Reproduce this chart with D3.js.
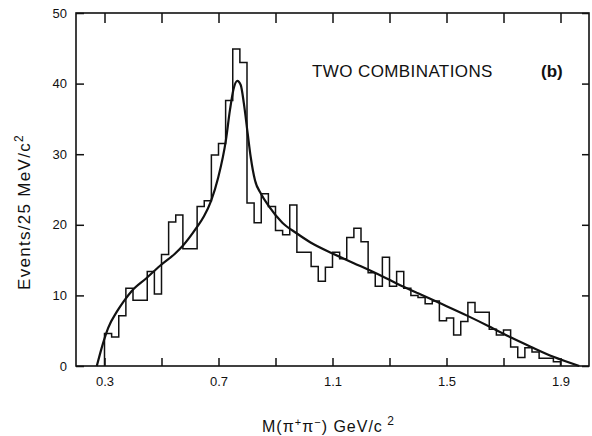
<!DOCTYPE html>
<html>
<head>
<meta charset="utf-8">
<script src="https://cdn.jsdelivr.net/npm/d3@7"></script>
<style>
  html, body { margin: 0; padding: 0; background: #fff; }
  svg { display: block; }
  text { font-family: "Liberation Sans", Arial, sans-serif; fill: #111; }
</style>
</head>
<body>
<svg id="chart" width="592" height="436"></svg>
<script>
// ---- data ----
const binStart = 0.30;      // GeV, first bin left edge
const binWidth = 0.025;     // 25 MeV bins
const counts = [
  4.6, 4.1, 7.1, 11.0, 9.3, 9.3, 13.4, 10.2, 15.8, 20.4,
  21.4, 16.6, 16.6, 22.6, 23.4, 29.9, 31.5, 37.6, 44.9, 43.0,
  23.1, 20.3, 24.4, 22.6, 19.2, 18.6, 22.8, 16.1, 16.1, 14.1,
  12.0, 14.0, 16.1, 15.2, 18.2, 19.5, 17.6, 13.2, 11.3, 15.4,
  11.3, 13.4, 11.0, 10.0, 9.7, 8.8, 9.2, 6.4, 6.8, 4.4,
  6.3, 9.0, 7.6, 7.6, 5.2, 4.4, 5.1, 2.7, 1.2, 2.6,
  2.0, 1.1, 1.1, 0.6
];
const fitMass = [0.273, 0.294, 0.313, 0.345, 0.368, 0.395, 0.446, 0.495, 0.547, 0.574,
  0.623, 0.649, 0.674, 0.699, 0.726, 0.740, 0.752, 0.766, 0.778, 0.789,
  0.8025, 0.813, 0.828, 0.849, 0.877, 0.924, 0.974, 1.023, 1.100, 1.173,
  1.249, 1.325, 1.400, 1.474, 1.574, 1.650, 1.723, 1.797, 1.875, 1.966];
const fitEvents = [0, 3.1, 5.4, 7.8, 9.2, 10.6, 12.4, 14.2, 15.9, 17.0,
  19.6, 21.2, 23.4, 26.7, 32.0, 36.2, 39.1, 40.4, 39.8, 37.2,
  32.9, 29.6, 26.3, 24.4, 22.6, 20.3, 18.8, 17.5, 15.95, 14.6,
  13.2, 11.7, 10.3, 8.95, 7.1, 5.6, 4.1, 2.7, 1.3, 0];
const xTicks = [0.3, 0.5, 0.7, 0.9, 1.1, 1.3, 1.5, 1.7, 1.9];
const xTickLabels = ["0.3", "", "0.7", "", "1.1", "", "1.5", "", "1.9"];
const yTicks = [0, 10, 20, 30, 40, 50];
const title = "TWO COMBINATIONS";
const panel = "(b)";

// ---- layout ----
const L = 76, R = 589, T = 13, B = 366;
const svg = d3.select("#chart");
const x = d3.scaleLinear().domain([0.2, 2.0]).range([L, R]);
const y = d3.scaleLinear().domain([0, 50]).range([B, T]);

// frame
svg.append("rect").attr("x", L).attr("y", T).attr("width", R - L).attr("height", B - T)
  .attr("fill", "none").attr("stroke", "#111").attr("stroke-width", 1.6);

// axes
const fmtX = d => xTickLabels[xTicks.indexOf(d)] || "";
const gB = svg.append("g").attr("transform", `translate(0,${B})`)
  .call(d3.axisBottom(x).tickValues(xTicks).tickSizeInner(-8).tickSizeOuter(0).tickPadding(11).tickFormat(fmtX));
const gT = svg.append("g").attr("transform", `translate(0,${T})`)
  .call(d3.axisTop(x).tickValues(xTicks).tickSizeInner(-10).tickSizeOuter(0).tickFormat(""));
const gL = svg.append("g").attr("transform", `translate(${L},0)`)
  .call(d3.axisLeft(y).tickValues(yTicks).tickSizeInner(-8).tickSizeOuter(0).tickPadding(9).tickFormat(d3.format("d")));
const gR = svg.append("g").attr("transform", `translate(${R},0)`)
  .call(d3.axisRight(y).tickValues(yTicks).tickSizeInner(-7).tickSizeOuter(0).tickFormat(""));
[gB, gT, gL, gR].forEach(g => {
  g.select(".domain").remove();
  g.selectAll(".tick line").attr("stroke", "#111").attr("stroke-width", 1.5);
  g.selectAll(".tick text").attr("font-size", 13).attr("fill", "#111")
    .attr("font-family", "'Liberation Sans', Arial, sans-serif");
});

// histogram step path
const hist = counts.map((c, i) => ({ x0: binStart + i * binWidth, x1: binStart + (i + 1) * binWidth, c }));
let p = d3.path();
p.moveTo(x(hist[0].x0), y(0));
hist.forEach(h => { p.lineTo(x(h.x0), y(h.c)); p.lineTo(x(h.x1), y(h.c)); });
p.lineTo(x(hist[hist.length - 1].x1), y(0));
svg.append("path").attr("d", p.toString()).attr("fill", "none")
  .attr("stroke", "#111").attr("stroke-width", 1.5).attr("stroke-linejoin", "miter");

// fitted curve
const fit = fitMass.map((m, i) => [m, fitEvents[i]]);
svg.append("path").datum(fit)
  .attr("d", d3.line().x(d => x(d[0])).y(d => y(d[1])).curve(d3.curveMonotoneX))
  .attr("fill", "none").attr("stroke", "#111").attr("stroke-width", 2.2);

// annotations
svg.append("text").attr("x", 312).attr("y", 77).attr("font-size", 17)
  .attr("letter-spacing", 0.4).text(title);
svg.append("text").attr("x", 541).attr("y", 77).attr("font-size", 17)
  .attr("font-weight", "bold").text(panel);

// y-axis title
const yt = svg.append("text").attr("transform", "translate(30,290) rotate(-90)")
  .attr("font-size", 17).attr("letter-spacing", 1.3);
yt.append("tspan").text("Events/25 MeV/c");
yt.append("tspan").attr("dy", -7).attr("font-size", 12).text("2");

// x-axis title
const xt = svg.append("text").attr("x", 262).attr("y", 432).attr("font-size", 16).attr("letter-spacing", 1);
xt.append("tspan").text("M(π");
xt.append("tspan").attr("dy", -6).attr("font-size", 11).text("+");
xt.append("tspan").attr("dy", 6).text("π");
xt.append("tspan").attr("dy", -6).attr("font-size", 11).text("−");
xt.append("tspan").attr("dy", 6).text(") GeV/c");
xt.append("tspan").attr("dy", -7).attr("font-size", 12).text(" 2");
</script>
</body>
</html>
